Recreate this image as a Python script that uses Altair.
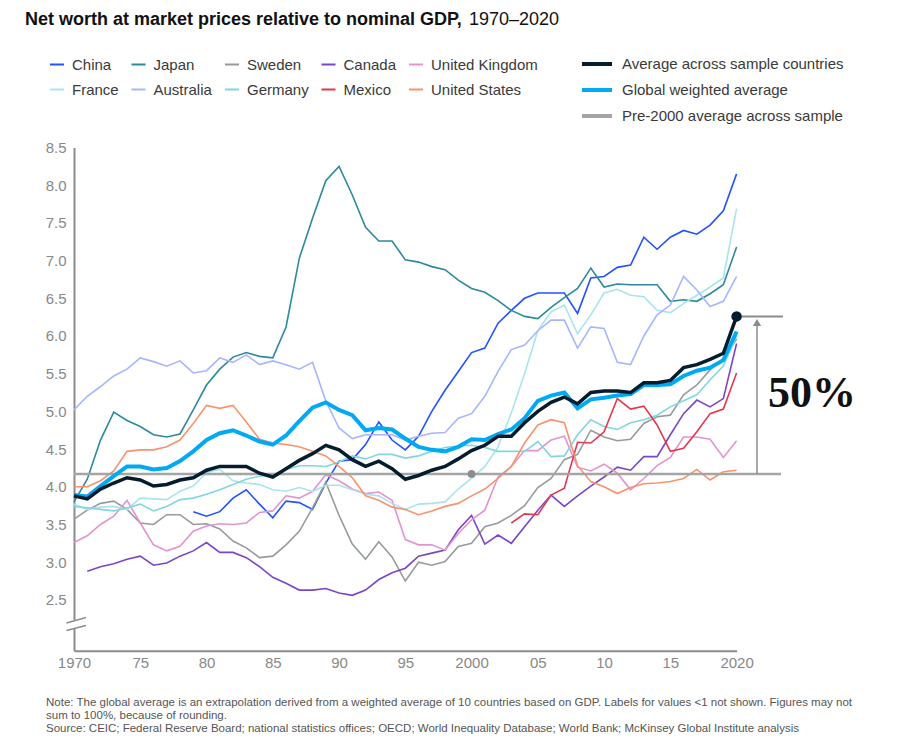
import altair as alt
import pandas as pd

# ---- data: net worth as a multiple of nominal GDP ----
years = list(range(1970, 2021))

# legend fills column by column, so the two rows are interleaved here
countries = ["China", "France", "Japan", "Australia", "Sweden",
             "Germany", "Canada", "Mexico", "United Kingdom", "United States"]
country_colors = ["#2251ff", "#a9e4ee", "#2b8a9b", "#a7b5ff", "#959b9f",
                  "#82d5e1", "#7a45c8", "#e5364f", "#e294d2", "#f9926c"]
first_year = {"China": 1979, "Canada": 1971, "Mexico": 2003}

china = [3.67, 3.61, 3.67, 3.85, 3.96, 3.77, 3.59, 3.81, 3.79, 3.70, 4.05,
         4.34, 4.36, 4.56, 4.86, 4.62, 4.49, 4.67, 5.00, 5.28, 5.53,
         5.78, 5.84, 6.17, 6.34, 6.50, 6.57, 6.57, 6.57, 6.30, 6.77,
         6.79, 6.91, 6.94, 7.31, 7.15, 7.31, 7.40, 7.35, 7.47, 7.66, 8.15]
japan = [3.80, 4.10, 4.62, 4.99, 4.88, 4.80, 4.69, 4.66, 4.70, 5.02,
         5.35, 5.56, 5.72, 5.78, 5.73, 5.71, 6.12, 7.03, 7.56, 8.06,
         8.25, 7.87, 7.44, 7.26, 7.26, 7.01, 6.98, 6.92, 6.88, 6.74,
         6.63, 6.58, 6.47, 6.34, 6.26, 6.23, 6.38, 6.51, 6.63, 6.90,
         6.65, 6.69, 6.68, 6.68, 6.68, 6.46, 6.48, 6.46, 6.56, 6.68, 7.18]
sweden = [3.57, 3.69, 3.78, 3.81, 3.70, 3.52, 3.50, 3.63, 3.63, 3.50,
          3.51, 3.44, 3.28, 3.19, 3.06, 3.08, 3.23, 3.41, 3.72, 4.06,
          3.62, 3.24, 3.04, 3.27, 3.07, 2.75, 3.00, 2.96, 3.01, 3.21,
          3.25, 3.47, 3.52, 3.62, 3.75, 3.99, 4.11, 4.36, 4.43, 4.75,
          4.66, 4.61, 4.63, 4.84, 4.93, 4.95, 5.22, 5.35, 5.55, 5.70, 5.96]
canada = [2.88, 2.94, 2.98, 3.04, 3.08, 2.96, 2.99, 3.08, 3.15,
          3.26, 3.13, 3.13, 3.06, 2.94, 2.80, 2.72, 2.63, 2.63, 2.65,
          2.59, 2.56, 2.63, 2.77, 2.86, 2.92, 3.08, 3.12, 3.16, 3.43,
          3.62, 3.24, 3.36, 3.25, 3.47, 3.69, 3.89, 3.74, 3.88, 4.01,
          4.13, 4.26, 4.22, 4.40, 4.40, 4.69, 4.97, 5.15, 5.06, 5.17, 5.90]
united_kingdom = [3.26, 3.35, 3.50, 3.61, 3.82, 3.52, 3.23, 3.15, 3.21, 3.41,
                  3.48, 3.51, 3.50, 3.52, 3.66, 3.68, 3.88, 3.85, 3.94, 4.16,
                  4.08, 3.97, 3.91, 3.93, 3.82, 3.30, 3.23, 3.23, 3.16, 3.38,
                  3.56, 3.69, 4.13, 4.27, 4.48, 4.48, 4.62, 4.67, 4.26, 4.21,
                  4.30, 4.18, 3.96, 4.11, 4.28, 4.39, 4.66, 4.66, 4.63, 4.39, 4.61]
france = [3.77, 3.70, 3.73, 3.74, 3.70, 3.85, 3.84, 3.83, 3.94, 4.01,
          4.19, 4.23, 4.08, 4.05, 4.03, 3.96, 3.94, 3.99, 3.94, 4.02,
          4.02, 3.96, 3.90, 3.88, 3.78, 3.70, 3.77, 3.78, 3.80, 3.97,
          4.11, 4.27, 4.53, 4.98, 5.50, 6.07, 6.32, 6.41, 6.03, 6.28,
          6.57, 6.62, 6.54, 6.52, 6.34, 6.31, 6.43, 6.54, 6.65, 6.77, 7.69]
australia = [5.02, 5.20, 5.33, 5.47, 5.56, 5.71, 5.66, 5.60, 5.67, 5.51,
             5.54, 5.71, 5.65, 5.75, 5.62, 5.67, 5.62, 5.56, 5.65, 5.14,
             4.78, 4.64, 4.69, 4.69, 4.69, 4.62, 4.67, 4.71, 4.72, 4.91,
             4.97, 5.20, 5.53, 5.82, 5.88, 6.07, 6.21, 6.21, 5.84, 6.12,
             6.10, 5.65, 5.62, 6.00, 6.28, 6.41, 6.79, 6.61, 6.39, 6.46, 6.79]
germany = [3.74, 3.72, 3.70, 3.68, 3.72, 3.77, 3.68, 3.74, 3.83, 3.85,
           3.90, 3.96, 4.03, 4.10, 4.14, 4.16, 4.23, 4.28, 4.28, 4.27,
           4.33, 4.41, 4.37, 4.43, 4.43, 4.38, 4.41, 4.47, 4.52, 4.54,
           4.55, 4.52, 4.47, 4.47, 4.47, 4.60, 4.40, 4.41, 4.69, 4.89,
           4.80, 4.76, 4.85, 4.89, 4.95, 5.06, 5.14, 5.22, 5.42, 5.60, 6.00]
mexico = [3.52, 3.64, 3.63, 3.89, 3.98, 4.59, 4.58, 4.73, 5.17,
          5.03, 5.07, 4.82, 4.47, 4.51, 4.73, 4.97, 5.03, 5.51]
united_states = [4.00, 4.00, 4.08, 4.21, 4.47, 4.49, 4.49, 4.53, 4.62, 4.84,
                 5.08, 5.04, 5.08, 4.86, 4.63, 4.58, 4.56, 4.53, 4.47, 4.41,
                 4.27, 4.12, 3.88, 3.82, 3.73, 3.70, 3.63, 3.68, 3.74, 3.78,
                 3.88, 3.97, 4.11, 4.27, 4.58, 4.82, 4.89, 4.85, 4.28, 4.07,
                 4.00, 3.91, 3.99, 4.04, 4.05, 4.07, 4.11, 4.23, 4.09, 4.20, 4.22]

sample_average = [3.88, 3.84, 3.97, 4.05, 4.12, 4.09, 4.01, 4.03, 4.09, 4.12,
                  4.22, 4.27, 4.27, 4.27, 4.18, 4.13, 4.24, 4.35, 4.44, 4.55,
                  4.49, 4.36, 4.27, 4.34, 4.24, 4.10, 4.15, 4.22, 4.27, 4.37,
                  4.48, 4.55, 4.67, 4.67, 4.85, 5.00, 5.12, 5.19, 5.10, 5.25,
                  5.27, 5.27, 5.25, 5.38, 5.38, 5.41, 5.58, 5.62, 5.69, 5.77, 6.26]
global_weighted = [3.89, 3.87, 4.01, 4.14, 4.27, 4.27, 4.23, 4.25, 4.34, 4.47,
                   4.62, 4.71, 4.75, 4.68, 4.60, 4.56, 4.68, 4.87, 5.05, 5.12,
                   5.02, 4.95, 4.75, 4.78, 4.76, 4.64, 4.53, 4.49, 4.47, 4.53,
                   4.63, 4.62, 4.70, 4.76, 4.91, 5.14, 5.21, 5.25, 5.04, 5.16,
                   5.18, 5.21, 5.23, 5.35, 5.35, 5.36, 5.47, 5.54, 5.58, 5.68, 6.06]
pre2000_average = 4.17

avg_names = ["Average across sample countries", "Global weighted average",
             "Pre-2000 average across sample"]
avg_colors = ["#051c2c", "#00a9f4", "#a5a5a5"]

y_ticks = [2.5, 3.0, 3.5, 4.0, 4.5, 5.0, 5.5, 6.0, 6.5, 7.0, 7.5, 8.0, 8.5]
x_ticks = [1970, 1975, 1980, 1985, 1990, 1995, 2000, 2005, 2010, 2015, 2020]

title_bold = "Net worth at market prices relative to nominal GDP,"
title_regular = "1970\u20132020"
note_lines = [
    "Note: The global average is an extrapolation derived from a weighted average of 10 countries "
    "based on GDP. Labels for values <1 not shown. Figures may not",
    "sum to 100%, because of rounding.",
    "Source: CEIC; Federal Reserve Board; national statistics offices; OECD; World Inequality "
    "Database; World Bank; McKinsey Global Institute analysis",
]

# ---- tidy tables ----
series = {"China": china, "Japan": japan, "Sweden": sweden, "Canada": canada,
          "United Kingdom": united_kingdom, "France": france, "Australia": australia,
          "Germany": germany, "Mexico": mexico, "United States": united_states}
rows = []
for name, vals in series.items():
    start = first_year.get(name, 1970)
    for i, v in enumerate(vals):
        rows.append({"country": name, "year": start + i, "value": v})
countries_df = pd.DataFrame(rows)

sample_df = pd.DataFrame({"year": years, "value": sample_average, "series": avg_names[0]})
global_df = pd.DataFrame({"year": years, "value": global_weighted, "series": avg_names[1]})
pre_df = pd.DataFrame({"value": [pre2000_average], "series": [avg_names[2]], "year": [2000]})
end_df = sample_df[sample_df["year"] == 2020]
growth_pct = round((sample_average[-1] / pre2000_average - 1) * 100)

FONT = "Liberation Sans"
W, H = 662.6, 503.2

xs = alt.Scale(domain=[1970, 2020], nice=False, zero=False)
ys = alt.Scale(domain=[1.826, 8.5], nice=False, zero=False)

x_axis = alt.Axis(values=x_ticks, format="d", title=None, ticks=False, grid=False,
                  labelFlush=False, labelOverlap=False,
                  labelExpr="indexof(['1970','2000','2020'], datum.label) >= 0 ? datum.label : slice(datum.label, 2)",
                  domainColor="#8c8c8c", domainWidth=2, labelColor="#888888",
                  labelFont=FONT, labelFontSize=15, labelPadding=5)
y_axis = alt.Axis(values=y_ticks, format=".1f", title=None, ticks=False, grid=False,
                  labelFlush=False,
                  domainColor="#8c8c8c", domainWidth=2, labelColor="#888888",
                  labelFont=FONT, labelFontSize=15, labelPadding=8)

country_legend = alt.Legend(
    title=None, orient="none", legendX=-25, legendY=-91, columns=5,
    symbolType="stroke", symbolSize=196, symbolStrokeWidth=2,
    labelFont=FONT, labelFontSize=15, labelColor="#3a3a3a", labelOffset=7,
    columnPadding=8.5, rowPadding=9, padding=0, labelLimit=300)

avg_scale = alt.Scale(domain=avg_names, range=avg_colors)
avg_legend = alt.Legend(
    title=None, orient="none", legendX=513.5, legendY=-93, columns=1,
    symbolType="M-2,0H2", symbolSize=225, symbolStrokeWidth=4,
    labelFont=FONT, labelFontSize=15, labelColor="#3a3a3a", labelOffset=15.5,
    rowPadding=8, padding=0, labelLimit=400)

country_lines = alt.Chart(countries_df).mark_line(strokeWidth=1.6).encode(
    x=alt.X("year:Q", scale=xs, axis=x_axis),
    y=alt.Y("value:Q", scale=ys, axis=y_axis),
    color=alt.Color("country:N", scale=alt.Scale(domain=countries, range=country_colors),
                    legend=country_legend),
)

pre_line = alt.Chart(pre_df).mark_rule(strokeWidth=2.5, color="#8c8c8c").encode(
    y=alt.Y("value:Q", scale=ys),
    x=alt.value(0), x2=alt.value(707),
    color=alt.Color("series:N", scale=avg_scale, legend=avg_legend),
)
pre_dot = alt.Chart(pre_df).mark_circle(size=60, opacity=1, color="#8c8c8c").encode(
    x=alt.X("year:Q", scale=xs), y=alt.Y("value:Q", scale=ys))

global_line = alt.Chart(global_df).mark_line(strokeWidth=4).encode(
    x=alt.X("year:Q", scale=xs), y=alt.Y("value:Q", scale=ys),
    color=alt.Color("series:N", scale=avg_scale, legend=avg_legend))
sample_line = alt.Chart(sample_df).mark_line(strokeWidth=3.5).encode(
    x=alt.X("year:Q", scale=xs), y=alt.Y("value:Q", scale=ys),
    color=alt.Color("series:N", scale=avg_scale, legend=avg_legend))
end_dot = alt.Chart(end_df).mark_circle(size=110, opacity=1, color="#051c2c").encode(
    x=alt.X("year:Q", scale=xs), y=alt.Y("value:Q", scale=ys))

averages = alt.layer(pre_line, global_line, sample_line, pre_dot, end_dot)

# growth bracket: pre-2000 level up to the 2020 sample average
top_tick = alt.Chart(end_df).mark_rule(strokeWidth=2, color="#8c8c8c").encode(
    y=alt.Y("value:Q", scale=ys), x=alt.value(668), x2=alt.value(709))
arrow_shaft = alt.Chart(pre_df).mark_rule(strokeWidth=1.5, color="#8c8c8c").encode(
    y=alt.Y("value:Q", scale=ys), y2=alt.value(178), x=alt.value(683))
arrow_head = alt.Chart(pre_df).mark_point(shape="triangle-up", size=70, filled=True,
                                          opacity=1, color="#8c8c8c").encode(
    x=alt.value(683), y=alt.value(175))
growth_label = alt.Chart(pd.DataFrame({"label": [f"{growth_pct}%"]})).mark_text(
    font="Liberation Serif", fontSize=44, fontWeight="bold", align="left",
    baseline="middle", color="#111111").encode(
    x=alt.value(694), y=alt.value(246), text="label:N")

# broken-axis marker on the y axis
dummy = pd.DataFrame({"k": [0]})
axis_gap = alt.Chart(dummy).mark_rule(strokeWidth=6, color="white").encode(
    x=alt.value(0), y=alt.value(472.5), y2=alt.value(480.5))
break_a = alt.Chart(dummy).mark_rule(strokeWidth=1.5, color="#8c8c8c").encode(
    x=alt.value(-7.5), y=alt.value(475.5), x2=alt.value(12), y2=alt.value(470))
break_b = alt.Chart(dummy).mark_rule(strokeWidth=1.5, color="#8c8c8c").encode(
    x=alt.value(-7.5), y=alt.value(483), x2=alt.value(12), y2=alt.value(478))

title_a = alt.Chart(pd.DataFrame({"t": [title_bold]})).mark_text(
    font=FONT, fontSize=18, fontWeight="bold", align="left", baseline="middle",
    color="#111111").encode(x=alt.value(-49), y=alt.value(-127.5), text="t:N")
title_b = alt.Chart(pd.DataFrame({"t": [title_regular]})).mark_text(
    font=FONT, fontSize=18, align="left", baseline="middle",
    color="#111111").encode(x=alt.value(395), y=alt.value(-127.5), text="t:N")

note = alt.Chart(dummy).mark_text(
    font=FONT, fontSize=11.5, align="left", baseline="top", lineHeight=13,
    color="#555555").encode(x=alt.value(-28), y=alt.value(549), text=alt.value(note_lines))

chart = alt.layer(
    country_lines, averages,
    top_tick, arrow_shaft, arrow_head, growth_label,
    axis_gap, break_a, break_b, title_a, title_b, note,
).resolve_scale(color="independent").properties(
    width=W, height=H,
    padding={"left": 74, "top": 147.5, "right": 916 - 74 - W, "bottom": 750 - 147.5 - H},
    autosize=alt.AutoSizeParams(type="none"),
    background="white",
).configure_view(stroke=None)

chart.save("out.html", embed_options={"renderer": "svg", "actions": False})
